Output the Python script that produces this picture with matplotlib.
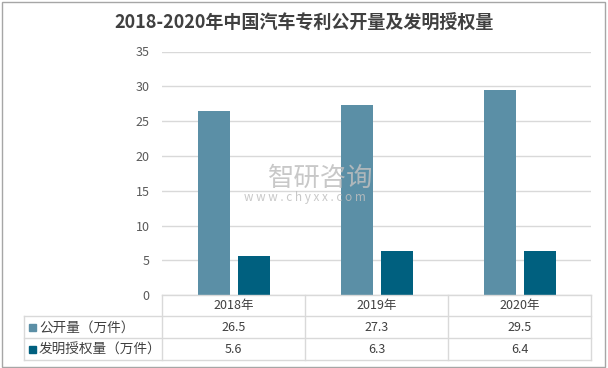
import matplotlib
matplotlib.use("Agg")
import matplotlib.pyplot as plt
from matplotlib.patches import Rectangle
from matplotlib.lines import Line2D
import numpy as np

plt.rcParams['font.family'] = ['Noto Sans CJK SC', 'DejaVu Sans']

title = "2018-2020年中国汽车专利公开量及发明授权量"
years = ["2018年", "2019年", "2020年"]
series_names = ["公开量（万件）", "发明授权量（万件）"]
public_vals = [26.5, 27.3, 29.5]
grant_vals = [5.6, 6.3, 6.4]
y_ticks = [0, 5, 10, 15, 20, 25, 30, 35]

c_pub = "#5B8FA6"
c_grant = "#00607F"
grid_c = "#D9D9D9"
txt_c = "#404040"

W, H = 608, 368
fig = plt.figure(figsize=(W / 100, H / 100), dpi=100)

def fx(px):
    return px / W

def fy(py):
    return 1 - py / H

L, R, T, B = 162.3, 591.3, 51.5, 295.3
ax = fig.add_axes([fx(L), fy(B), fx(R) - fx(L), fy(T) - fy(B)])
x = np.arange(len(years))
bw = 0.224
off = 0.14
ax.bar(x - off, public_vals, bw, color=c_pub, zorder=3)
ax.bar(x + off, grant_vals, bw, color=c_grant, zorder=3)
ax.set_xlim(-0.5, len(years) - 0.5)
ax.set_ylim(0, 35)
ax.set_yticks(y_ticks)
ax.set_yticklabels([str(t) for t in y_ticks], fontsize=9, color="#595959")
ax.tick_params(axis='y', length=0, pad=9)
ax.set_xticks([])
ax.grid(axis='y', color=grid_c, linewidth=1, zorder=0)
for s in ax.spines.values():
    s.set_visible(False)

# watermark
ax.text(0.61, 16.8, "智研咨询", fontsize=19, color="#BFBFBF", alpha=0.85,
        ha='center', va='center', zorder=5)
ax.text(0.50, 14.1, "w w w . c h y x x . c o m", fontsize=8.5, color="#BFBFBF",
        alpha=0.85, ha='center', va='center', zorder=5)

# table lines
def hline(y, x0, x1):
    fig.add_artist(Line2D([fx(x0), fx(x1)], [fy(y), fy(y)], color=grid_c, lw=1))

def vline(xp, y0, y1):
    fig.add_artist(Line2D([fx(xp), fx(xp)], [fy(y0), fy(y1)], color=grid_c, lw=1))

rows = [295.3, 316.3, 338.3, 360.3]
tL = 24.3
hline(rows[0], L, R)
for r in rows[1:]:
    hline(r, tL, R)
colw = (R - L) / len(years)
cols = [L + i * colw for i in range(len(years) + 1)]
for c in cols:
    vline(c, rows[0], rows[3])
vline(tL, rows[1], rows[3])

for i, yr in enumerate(years):
    cx = fx(L + (i + 0.5) * colw)
    fig.text(cx, fy((rows[0] + rows[1]) / 2), yr, ha='center', va='center',
             fontsize=9, color=txt_c)
    fig.text(cx, fy((rows[1] + rows[2]) / 2), f"{public_vals[i]}", ha='center',
             va='center', fontsize=9, color=txt_c)
    fig.text(cx, fy((rows[2] + rows[3]) / 2), f"{grant_vals[i]}", ha='center',
             va='center', fontsize=9, color=txt_c)

for j, (name, col) in enumerate(zip(series_names, [c_pub, c_grant])):
    yc = (rows[j + 1] + rows[j + 2]) / 2
    sq = 7
    fig.add_artist(Rectangle((fx(29), fy(yc + sq / 2)), fx(sq), sq / H,
                             color=col, transform=fig.transFigure))
    fig.text(fx(39), fy(yc), name, ha='left', va='center', fontsize=9.8,
             color=txt_c)

fig.text(0.5, fy(22), title, ha='center', va='center', fontsize=13,
         fontweight='bold', color=txt_c)

# figure border
fig.add_artist(Rectangle((fx(1.5), fy(367)), fx(603.5), 365.5 / H, fill=False,
                         edgecolor="#A6A6A6", lw=1, transform=fig.transFigure))

fig.savefig("out.png", dpi=100)
